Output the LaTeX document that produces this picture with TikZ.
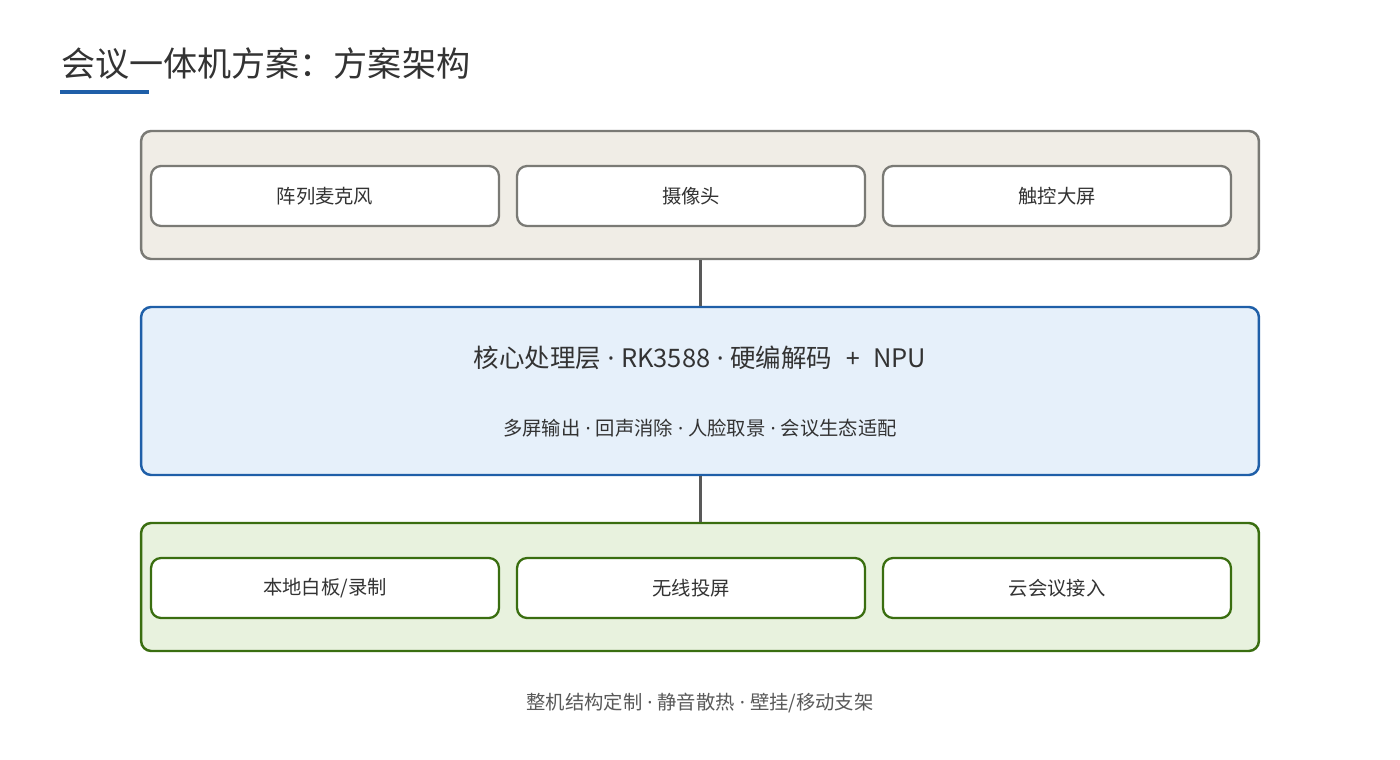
\documentclass[tikz,border=0pt]{standalone}
\usepackage{fontspec}
\setmainfont{Noto Sans CJK SC}
\newfontfamily\latinfont{Noto Sans}
\usepackage{tikz}

\definecolor{inputfill}{HTML}{F0EDE6}
\definecolor{inputline}{HTML}{7A7A75}
\definecolor{corefill}{HTML}{E6F0FA}
\definecolor{coreline}{HTML}{1F5FA8}
\definecolor{outfill}{HTML}{E8F2DE}
\definecolor{outline}{HTML}{3A6E10}
\definecolor{textgray}{HTML}{333333}

\newcommand{\sepdot}{{\latinfont{} · }}

\begin{document}
\begin{tikzpicture}[x=0.02cm, y=-0.02cm,
		layer/.style={draw, line width=1.4pt, rounded corners=0.2cm, minimum width=22.36cm, minimum height=2.56cm},
		item/.style={draw, fill=white, line width=1.3pt, rounded corners=0.2cm, minimum width=6.96cm, minimum height=1.2cm, font=\fontsize{11}{13}\selectfont, text=textgray},
		link/.style={draw=black!65, line width=1.7pt}]
		\useasboundingbox (0,0) rectangle (1400,760);

		% title
		\node[anchor=west, font=\fontsize{19.4}{23}\selectfont, text=textgray] (title) at (55,64) {会议一体机方案：方案架构};
		\fill[coreline] (60,90) rectangle (149,94);

		% top layer
		\node[layer, fill=inputfill, draw=inputline] (top) at (700,195) {};
		\node[item, draw=inputline] (mic) at (325,196) {阵列麦克风};
		\node[item, draw=inputline] (cam) at (691,196) {摄像头};
		\node[item, draw=inputline] (screen) at (1057,196) {触控大屏};

		% core layer
		\node[layer, fill=corefill, draw=coreline, minimum height=3.36cm] (core) at (700,391) {};
		\node[font=\fontsize{14.5}{17}\selectfont, text=textgray] (coretitle) at (700,358) {核心处理层\sepdot{}RK3588\sepdot{}硬编解码{\latinfont\ \ +\ \ }NPU};
		\node[font=\fontsize{11}{13}\selectfont, text=textgray] (coresub) at (700,428) {多屏输出\sepdot{}回声消除\sepdot{}人脸取景\sepdot{}会议生态适配};

		% bottom layer
		\node[layer, fill=outfill, draw=outline] (bottom) at (700,587) {};
		\node[item, draw=outline] (board) at (325,588) {本地白板/录制};
		\node[item, draw=outline] (cast) at (691,588) {无线投屏};
		\node[item, draw=outline] (cloud) at (1057,588) {云会议接入};

		\draw[link] (top) -- (core);
		\draw[link] (core) -- (bottom);

		% footer
		\node[font=\fontsize{11}{13}\selectfont, text=black!65] (foot) at (700,703) {整机结构定制\sepdot{}静音散热\sepdot{}壁挂/移动支架};
\end{tikzpicture}
\end{document}
